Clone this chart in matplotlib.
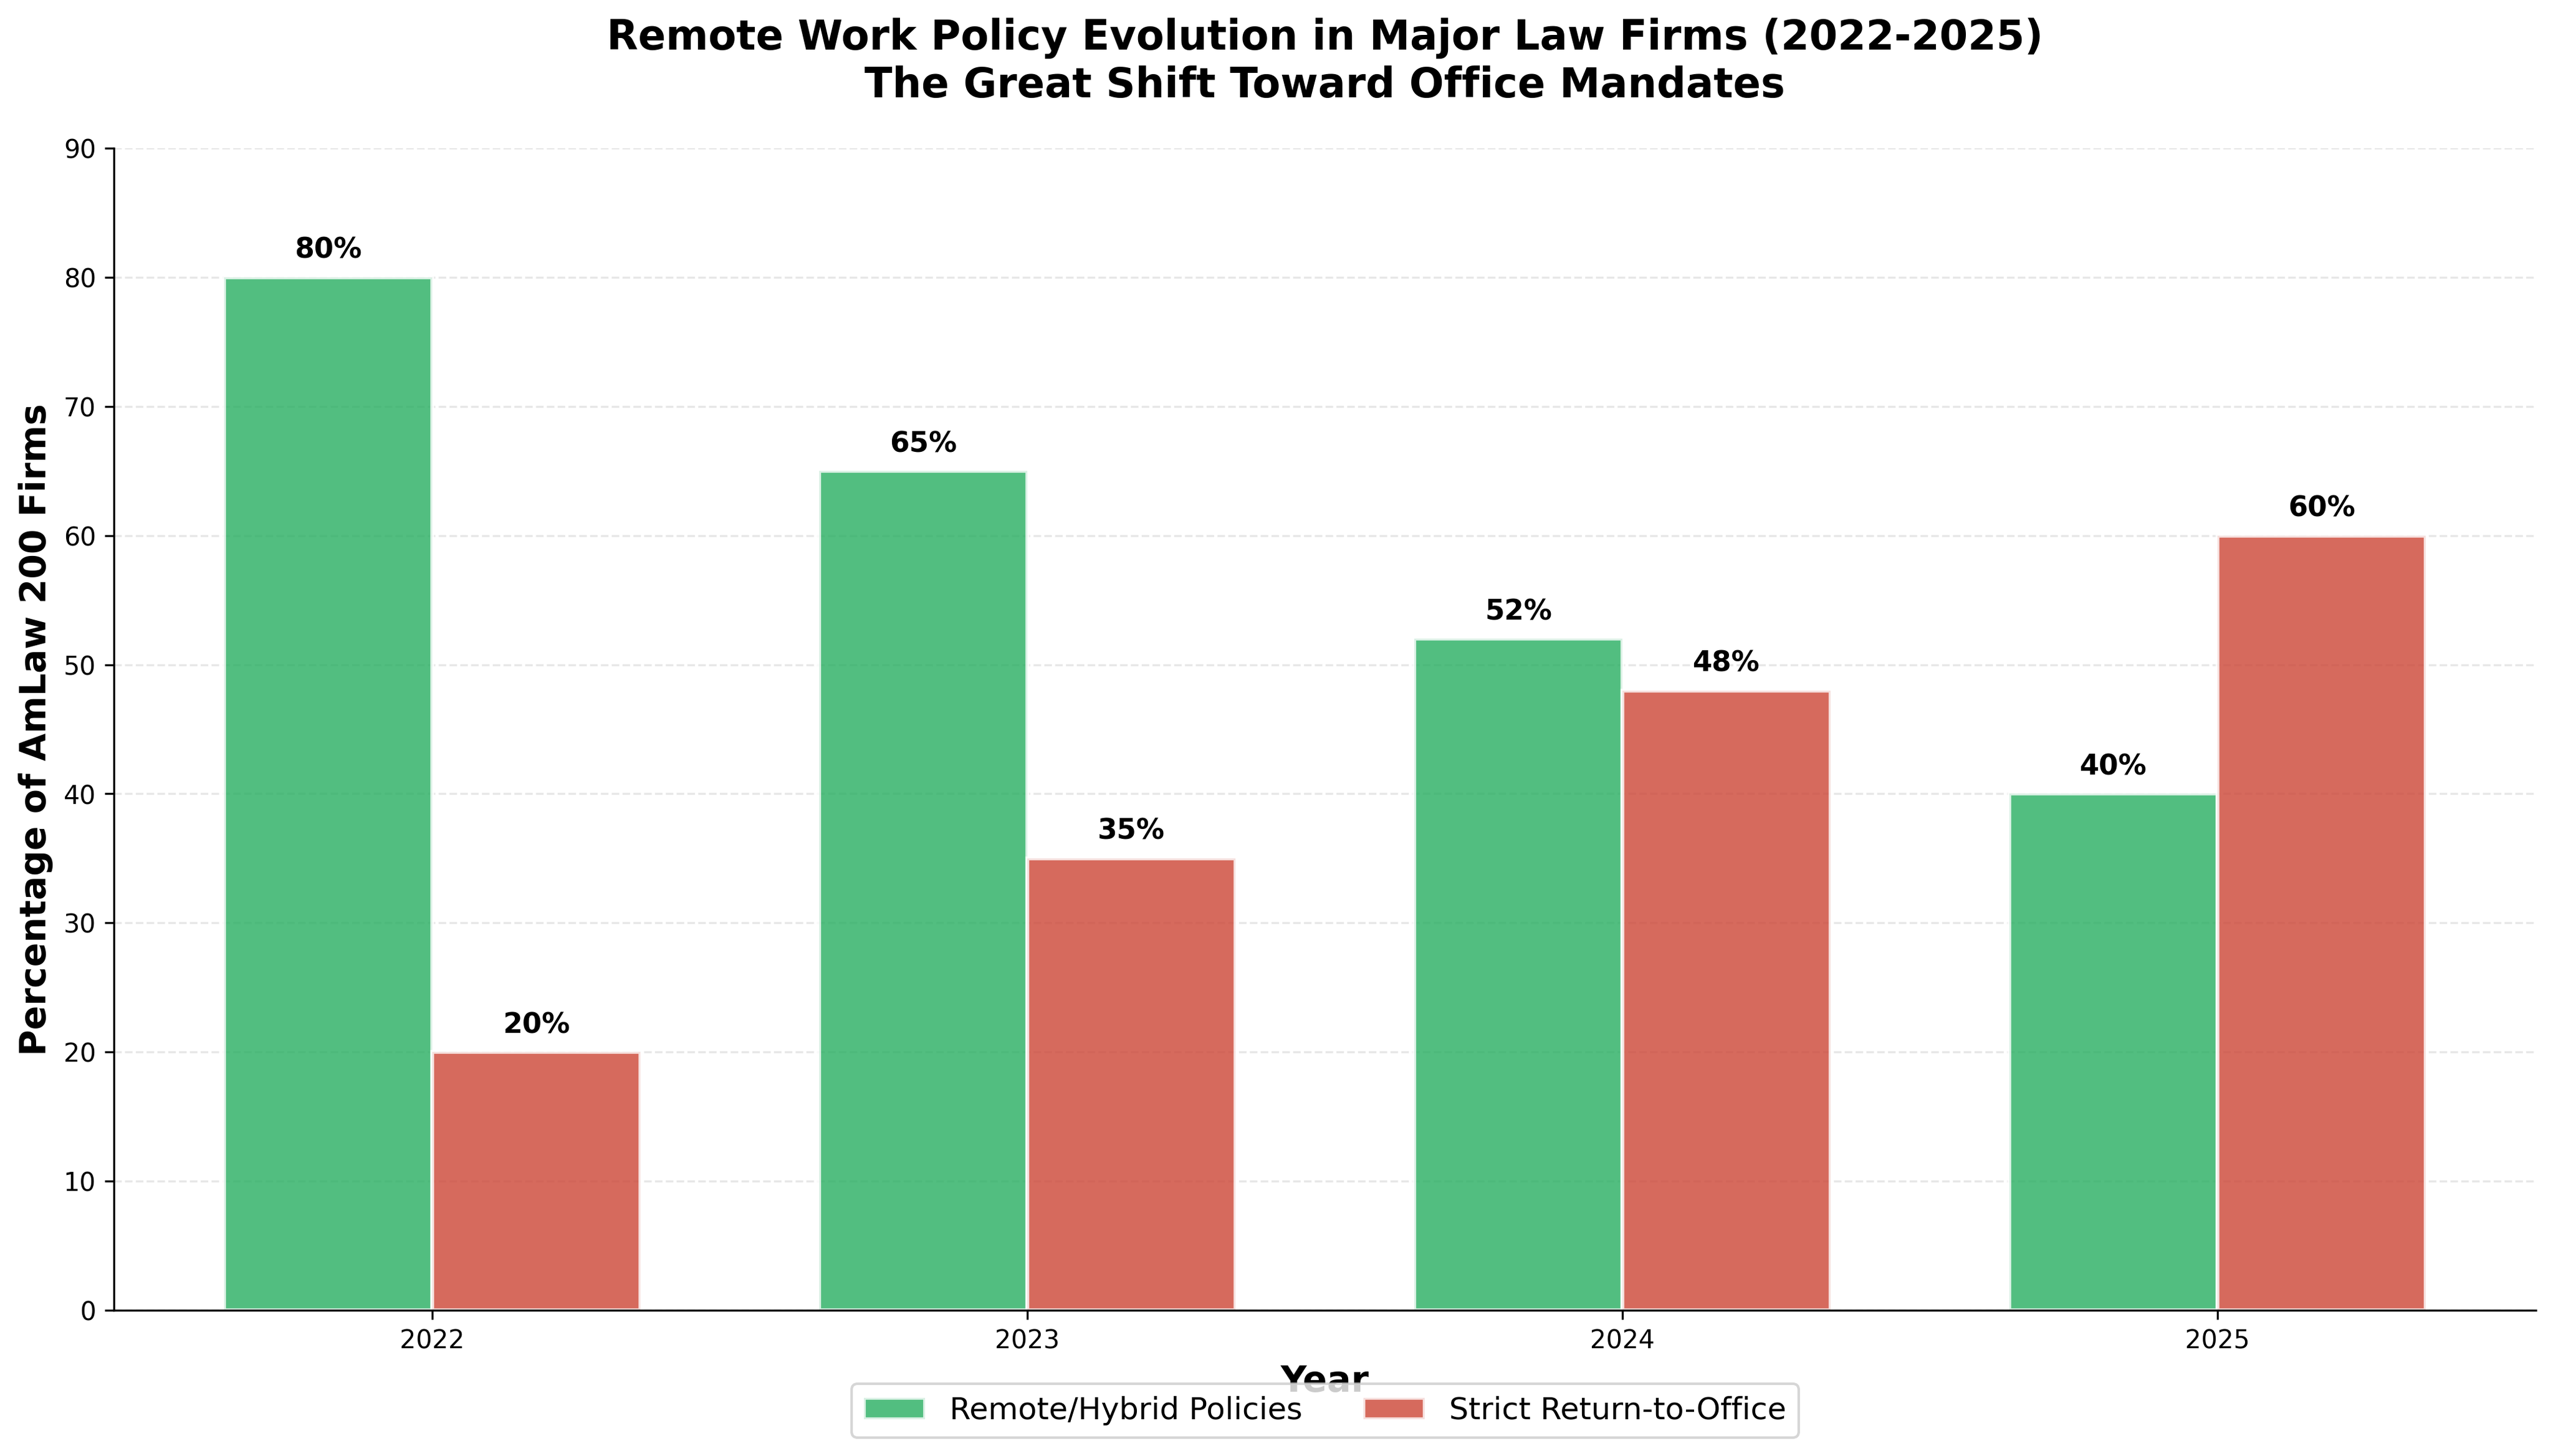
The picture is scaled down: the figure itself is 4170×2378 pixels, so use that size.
import numpy as np
import matplotlib
matplotlib.use("Agg")
import matplotlib.pyplot as plt

# данные
years = ['2022', '2023', '2024', '2025']
remote_hybrid = [80, 65, 52, 40]
strict_rto = [20, 35, 48, 60]

x = np.arange(len(years))
width = 0.35

fig, ax = plt.subplots(figsize=(13.9, 7.927), dpi=300)

bars1 = ax.bar(x - width / 2, remote_hybrid, width, label='Remote/Hybrid Policies',
               color='#27ae60', alpha=0.8, edgecolor='white', linewidth=1.5)
bars2 = ax.bar(x + width / 2, strict_rto, width, label='Strict Return-to-Office',
               color='#cc4535', alpha=0.8, edgecolor='white', linewidth=1.5)

# подписи над столбцами
for bars in (bars1, bars2):
    for b in bars:
        h = b.get_height()
        ax.text(b.get_x() + b.get_width() / 2, h + 1, f'{int(h)}%',
                ha='center', va='bottom', fontsize=11, fontweight='bold')

ax.set_xlabel('Year', fontsize=14, fontweight='bold')
ax.set_ylabel('Percentage of AmLaw 200 Firms', fontsize=14, fontweight='bold')
ax.set_title('Remote Work Policy Evolution in Major Law Firms (2022-2025)\n'
             'The Great Shift Toward Office Mandates', fontsize=16, fontweight='bold',
             pad=20)
ax.set_xticks(x)
ax.set_xticklabels(years)
ax.set_ylim(0, 90)
ax.grid(axis='y', linestyle='--', alpha=0.3)
ax.set_axisbelow(True)
ax.spines['top'].set_visible(False)
ax.spines['right'].set_visible(False)

ax.legend(loc='upper center', bbox_to_anchor=(0.5, -0.05), ncol=2, fontsize=12)

plt.subplots_adjust(left=0.0446, right=0.9933, bottom=0.1001, top=0.8982)
plt.savefig('out.png', dpi=300)
